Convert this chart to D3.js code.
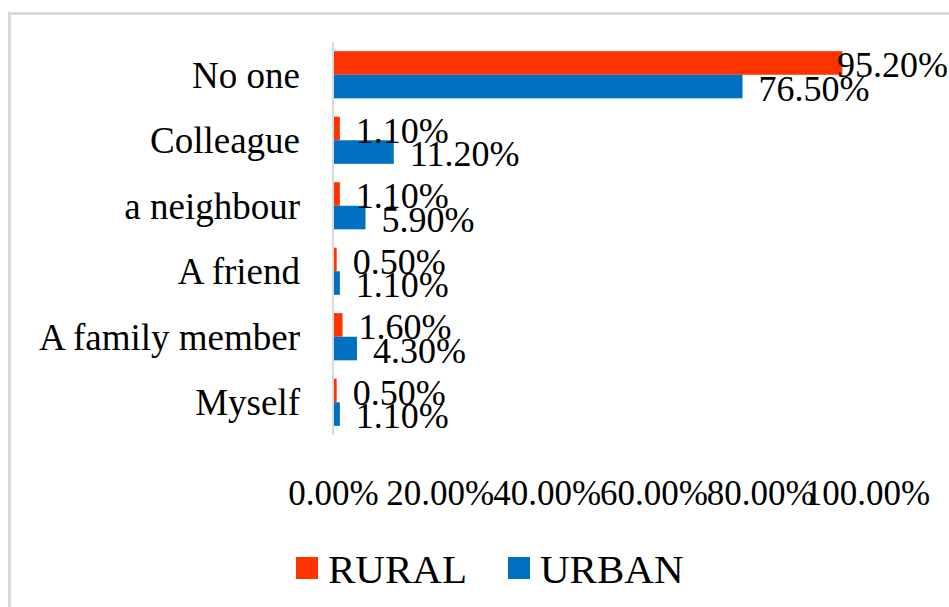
<!DOCTYPE html>
<html>
<head>
<meta charset="utf-8">
<script src="https://cdn.jsdelivr.net/npm/d3@7"></script>
<style>
  body { margin: 0; background: #fff; }
  text { font-family: "Liberation Serif", "Times New Roman", serif; fill: #000; }
</style>
</head>
<body>
<div id="chart"></div>
<script>
// data
const categories = ["No one", "Colleague", "a neighbour", "A friend", "A family member", "Myself"];
const rural = [95.2, 1.1, 1.1, 0.5, 1.6, 0.5];
const urban = [76.5, 11.2, 5.9, 1.1, 4.3, 1.1];
const ticks = [0, 20, 40, 60, 80, 100];
const seriesNames = ["RURAL", "URBAN"];
const colors = ["#FF3300", "#0070C0"];

const W = 949, H = 607;
const plot = { left: 333, right: 867, top: 42, bottom: 435 };

const svg = d3.select("#chart").append("svg").attr("width", W).attr("height", H);

// outer frame
svg.append("rect")
  .attr("x", 9.5).attr("y", 13.5)
  .attr("width", 1000).attr("height", 700)
  .attr("fill", "none").attr("stroke", "#d9d9d9").attr("stroke-width", 3);

const x = d3.scaleLinear().domain([0, 100]).range([plot.left, plot.right]);
const y = d3.scaleBand().domain(categories).range([plot.top, plot.bottom]).padding(0);
const barH = y.bandwidth() * 0.36;

const rows = categories.map((c, i) => ({ cat: c, vals: [rural[i], urban[i]] }));

const g = svg.append("g");

// bars
rows.forEach(r => {
  const mid = y(r.cat) + y.bandwidth() / 2;
  r.vals.forEach((v, k) => {
    const y0 = mid - barH + k * barH;
    g.append("rect")
      .attr("x", x(0) + 1)
      .attr("y", y0)
      .attr("width", x(v) - x(0))
      .attr("height", barH)
      .attr("fill", colors[k]);
  });
});

// value labels (they overlap in the original too)
rows.forEach(r => {
  const mid = y(r.cat) + y.bandwidth() / 2;
  r.vals.forEach((v, k) => {
    const cy = mid - barH / 2 + k * barH;
    const t = g.append("text")
      .attr("y", cy)
      .attr("dy", "0.4em")
      .attr("font-size", 36)
      .text(v.toFixed(2) + "%");
    const w = t.node().getComputedTextLength();
    const lx = Math.min(x(v) + 17, W - 1 - w);
    t.attr("x", lx);
  });
});

// vertical axis line
svg.append("line")
  .attr("x1", x(0)).attr("x2", x(0))
  .attr("y1", plot.top).attr("y2", plot.bottom)
  .attr("stroke", "#d9d9d9").attr("stroke-width", 2);

// category labels
svg.selectAll(".cat")
  .data(categories)
  .join("text")
  .attr("class", "cat")
  .attr("x", 300)
  .attr("y", d => y(d) + y.bandwidth() / 2)
  .attr("dy", "0.35em")
  .attr("text-anchor", "end")
  .attr("font-size", 37)
  .text(d => d);

// x tick labels
const xAxis = d3.axisBottom(x).tickValues(ticks).tickFormat(d => d.toFixed(2) + "%").tickSize(0).tickPadding(0);
const gx = svg.append("g").attr("transform", "translate(0,480)").call(xAxis);
gx.select(".domain").remove();
gx.selectAll("text")
  .attr("font-size", 35)
  .attr("font-family", "Liberation Serif, Times New Roman, serif")
  .attr("fill", "#000")
  .attr("dy", "0.71em");

// legend
const legendX = [296, 508];
seriesNames.forEach((s, k) => {
  svg.append("rect")
    .attr("x", legendX[k]).attr("y", 557)
    .attr("width", 22).attr("height", 22)
    .attr("fill", colors[k]);
  svg.append("text")
    .attr("x", legendX[k] + 32).attr("y", 583)
    .attr("font-size", 41)
    .text(s);
});
</script>
</body>
</html>
